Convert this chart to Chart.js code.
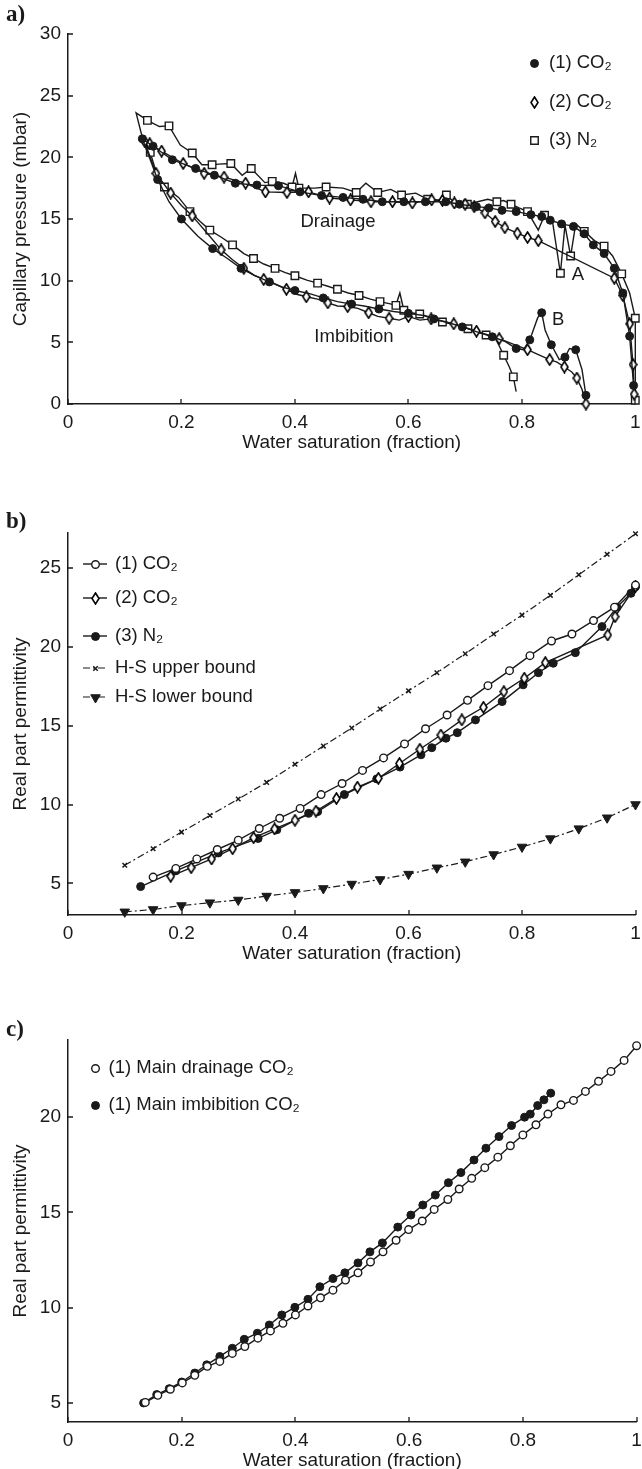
<!DOCTYPE html>
<html>
<head>
<meta charset="utf-8">
<title>Capillary pressure and permittivity vs water saturation</title>
<script src="https://cdn.jsdelivr.net/npm/chart.js@4.4.1/dist/chart.umd.min.js"></script>
<style>
  html, body { margin: 0; padding: 0; background: #fff; overflow: hidden; }
  body { width: 642px; height: 1469px; position: relative; }
  canvas { position: absolute; left: 0; }
</style>
</head>
<body>
<canvas id="graficoA" width="642" height="459" style="top:0"></canvas>
<canvas id="graficoB" width="642" height="511" style="top:459px"></canvas>
<canvas id="graficoC" width="642" height="507" style="top:970px"></canvas>
<script>
const INK = '#1a1a1a';
const FONT = '"Liberation Sans", Arial, Helvetica, sans-serif';

// ---------- ticks ----------
const xTicks = [0, 0.2, 0.4, 0.6, 0.8, 1];
const pcTicks = [0, 5, 10, 15, 20, 25, 30];
const epsTicksB = [5, 10, 15, 20, 25];
const epsTicksC = [5, 10, 15, 20];

// ---------- a) capillary pressure (drainage from Sw=1 leftwards, then imbibition) ----------
const labelsA = ['(1) CO₂', '(2) CO₂', '(3) N₂'];

const sw1 = [0.997, 0.99, 0.978, 0.963, 0.945, 0.926, 0.91, 0.891, 0.87, 0.85, 0.835, 0.816, 0.79, 0.765, 0.742, 0.72, 0.69, 0.666, 0.63, 0.592, 0.554, 0.52, 0.485, 0.447, 0.409, 0.371, 0.333, 0.295, 0.258, 0.225, 0.184, 0.15, 0.131,
  0.145, 0.158, 0.178, 0.2, 0.229, 0.255, 0.281, 0.305, 0.329, 0.355, 0.377, 0.4, 0.426, 0.45, 0.475, 0.5, 0.522, 0.548, 0.574, 0.6, 0.624, 0.645, 0.667, 0.695, 0.721, 0.748, 0.771, 0.79, 0.803, 0.814, 0.828, 0.835, 0.841, 0.852, 0.866, 0.876, 0.884, 0.895, 0.906, 0.913];
const pc1 = [1.5, 5.5, 9.0, 11.0, 12.2, 12.9, 13.8, 14.4, 14.6, 14.9, 15.2, 15.35, 15.6, 15.7, 15.9, 16.0, 16.2, 16.4, 16.4, 16.4, 16.4, 16.6, 16.75, 16.9, 17.2, 17.7, 17.75, 17.9, 18.55, 19.1, 19.8, 20.9, 21.5,
  19.8, 18.2, 16.4, 15.0, 13.6, 12.6, 11.8, 11.0, 10.4, 9.9, 9.5, 9.2, 8.95, 8.6, 8.3, 8.1, 7.95, 7.7, 7.5, 7.35, 7.2, 6.9, 6.65, 6.25, 5.85, 5.45, 5.05, 4.5, 4.4, 5.2, 7.0, 7.4, 6.0, 4.8, 3.6, 3.8, 4.5, 4.4, 2.8, 0.7];

const sw2 = [0.998, 0.996, 0.99, 0.978, 0.963, 0.829, 0.81, 0.792, 0.77, 0.753, 0.735, 0.716, 0.7, 0.681, 0.66, 0.641, 0.607, 0.572, 0.534, 0.498, 0.461, 0.424, 0.386, 0.348, 0.313, 0.275, 0.24, 0.203, 0.165, 0.144, 0.135,
  0.145, 0.155, 0.168, 0.181, 0.2, 0.219, 0.248, 0.27, 0.29, 0.31, 0.328, 0.345, 0.364, 0.385, 0.403, 0.42, 0.44, 0.458, 0.475, 0.493, 0.511, 0.53, 0.546, 0.566, 0.584, 0.6, 0.62, 0.64, 0.66, 0.68, 0.7, 0.72, 0.74, 0.76, 0.788, 0.81, 0.829, 0.849, 0.862, 0.875, 0.888, 0.897, 0.906, 0.913];
const pc2 = [0.8, 3.2, 6.5, 8.8, 10.2, 13.25, 13.5, 13.85, 14.3, 14.8, 15.5, 16.0, 16.2, 16.3, 16.5, 16.55, 16.3, 16.4, 16.4, 16.55, 16.7, 17.2, 17.15, 17.2, 17.9, 18.4, 18.7, 19.5, 20.5, 21.1, 21.3,
  20.0, 18.7, 17.9, 17.1, 16.1, 15.25, 13.7, 12.5, 11.7, 11.0, 10.45, 10.1, 9.75, 9.3, 8.9, 8.7, 8.5, 8.2, 7.95, 7.9, 7.75, 7.4, 7.1, 6.95, 6.8, 7.1, 6.8, 6.9, 6.7, 6.5, 6.2, 5.9, 5.6, 5.3, 4.8, 4.4, 4.0, 3.6, 3.4, 3.0, 2.6, 2.1, 1.2, 0.0];

const sw3 = [1.0, 1.0, 1.0, 0.99, 0.976, 0.96, 0.945, 0.928, 0.91, 0.895, 0.886, 0.876, 0.868, 0.854, 0.84, 0.829, 0.81, 0.795, 0.781, 0.768, 0.756, 0.74, 0.704, 0.68, 0.667, 0.66, 0.634, 0.613, 0.588, 0.569, 0.546, 0.525, 0.508, 0.485, 0.455, 0.435, 0.407, 0.401, 0.395, 0.38, 0.36, 0.347, 0.323, 0.307, 0.287, 0.266, 0.254, 0.236, 0.219, 0.198, 0.178, 0.161, 0.14, 0.12,
  0.13, 0.145, 0.155, 0.17, 0.195, 0.215, 0.233, 0.25, 0.271, 0.29, 0.31, 0.327, 0.345, 0.365, 0.383, 0.4, 0.421, 0.44, 0.458, 0.475, 0.494, 0.513, 0.533, 0.55, 0.57, 0.578, 0.585, 0.592, 0.604, 0.62, 0.634, 0.66, 0.686, 0.705, 0.721, 0.737, 0.753, 0.768, 0.778, 0.785, 0.79];
const pc3 = [0.3, 3.0, 6.95, 9.0, 10.55, 12.0, 12.8, 13.25, 14.0, 14.6, 12.0, 14.5, 10.6, 14.8, 15.3, 14.1, 15.6, 15.9, 16.2, 16.5, 16.4, 16.6, 16.2, 16.4, 16.95, 16.5, 16.6, 17.1, 16.95, 17.4, 17.15, 17.9, 17.15, 17.5, 17.6, 17.5, 17.5, 18.7, 17.6, 17.9, 18.05, 17.95, 19.1, 18.55, 19.5, 19.45, 19.4, 19.4, 20.35, 21.0, 22.55, 22.5, 23.0, 23.6,
  21.8, 20.4, 18.85, 17.6, 16.75, 15.6, 14.8, 14.1, 13.5, 12.9, 12.2, 11.8, 11.35, 11.0, 10.65, 10.4, 10.05, 9.8, 9.55, 9.3, 9.0, 8.8, 8.5, 8.3, 8.1, 8.0, 9.0, 7.6, 7.4, 7.3, 7.1, 6.65, 6.4, 6.1, 5.85, 5.6, 5.4, 3.95, 3.0, 2.2, 1.0];

// ---------- b) real part permittivity ----------
const labelsB = ['(1) CO₂', '(2) CO₂', '(3) N₂', 'H-S upper bound', 'H-S lower bound'];

const swB1 = [0.15, 0.19, 0.227, 0.263, 0.3, 0.337, 0.373, 0.409, 0.446, 0.483, 0.519, 0.556, 0.593, 0.63, 0.668, 0.704, 0.74, 0.778, 0.814, 0.852, 0.888, 0.926, 0.963, 1.0];
const epsB1 = [5.4, 5.95, 6.55, 7.15, 7.74, 8.48, 9.13, 9.75, 10.63, 11.33, 12.16, 12.95, 13.84, 14.8, 15.67, 16.6, 17.53, 18.48, 19.43, 20.36, 20.8, 21.65, 22.5, 23.9];

const swB2 = [0.181, 0.217, 0.253, 0.29, 0.327, 0.364, 0.4, 0.437, 0.473, 0.51, 0.547, 0.584, 0.62, 0.657, 0.694, 0.732, 0.768, 0.804, 0.841, 0.951, 0.964, 1.0];
const epsB2 = [5.45, 6.0, 6.55, 7.2, 7.9, 8.45, 9.0, 9.58, 10.38, 11.1, 11.66, 12.6, 13.5, 14.4, 15.36, 16.16, 17.15, 18.0, 18.99, 20.74, 21.9, 23.8];

const swB3 = [0.128, 0.19, 0.265, 0.335, 0.368, 0.424, 0.44, 0.487, 0.544, 0.585, 0.622, 0.641, 0.666, 0.686, 0.718, 0.765, 0.802, 0.829, 0.855, 0.894, 0.941, 0.967, 0.992, 1.0];
const epsB3 = [4.8, 5.8, 6.93, 7.85, 8.4, 9.44, 9.55, 10.63, 11.62, 12.37, 13.15, 13.6, 14.2, 14.55, 15.36, 16.52, 17.58, 18.35, 18.95, 19.62, 21.27, 22.5, 23.38, 23.8];

const swBound = [0.1, 0.15, 0.2, 0.25, 0.3, 0.35, 0.4, 0.45, 0.5, 0.55, 0.6, 0.65, 0.7, 0.75, 0.8, 0.85, 0.9, 0.95, 1.0];
const hsUpper = [6.15, 7.2, 8.25, 9.3, 10.35, 11.4, 12.55, 13.7, 14.85, 16.05, 17.2, 18.35, 19.55, 20.8, 22.0, 23.25, 24.55, 25.85, 27.15];
const hsLower = [3.2, 3.35, 3.6, 3.78, 3.95, 4.2, 4.43, 4.68, 4.96, 5.25, 5.59, 5.99, 6.37, 6.83, 7.31, 7.84, 8.47, 9.16, 10.0];

// ---------- c) main drainage / imbibition, sample (1) ----------
const labelsC = ['(1) Main drainage CO₂', '(1) Main imbibition CO₂'];

const swDrain = [0.136, 0.158, 0.18, 0.201, 0.223, 0.245, 0.267, 0.289, 0.311, 0.334, 0.356, 0.378, 0.4, 0.422, 0.444, 0.466, 0.488, 0.51, 0.532, 0.554, 0.577, 0.599, 0.623, 0.644, 0.668, 0.688, 0.71, 0.733, 0.756, 0.778, 0.8, 0.823, 0.844, 0.867, 0.889, 0.91, 0.933, 0.955, 0.978, 1.0];
const epsDrain = [5.03, 5.4, 5.72, 6.05, 6.45, 6.92, 7.18, 7.6, 7.96, 8.4, 8.78, 9.18, 9.62, 10.09, 10.52, 10.92, 11.45, 11.83, 12.4, 12.93, 13.54, 14.1, 14.55, 15.16, 15.68, 16.23, 16.79, 17.35, 17.9, 18.5, 19.07, 19.6, 20.16, 20.65, 20.88, 21.35, 21.88, 22.4, 22.98, 23.75];

const swImb = [0.133, 0.156, 0.178, 0.2, 0.223, 0.244, 0.267, 0.289, 0.31, 0.333, 0.354, 0.376, 0.399, 0.422, 0.443, 0.466, 0.487, 0.51, 0.531, 0.553, 0.58, 0.603, 0.624, 0.646, 0.669, 0.691, 0.714, 0.735, 0.758, 0.78, 0.803, 0.813, 0.826, 0.837, 0.849];
const epsImb = [5.0, 5.44, 5.75, 6.1, 6.57, 7.0, 7.44, 7.87, 8.34, 8.66, 9.09, 9.62, 10.02, 10.44, 11.1, 11.53, 11.83, 12.35, 12.93, 13.4, 14.23, 14.86, 15.39, 15.91, 16.56, 17.09, 17.75, 18.37, 18.98, 19.56, 20.0, 20.16, 20.61, 20.91, 21.26];

// ---------- helpers ----------
function pts(xs, ys) {
    return xs.map((x, i) => ({ x, y: ys[i] }));
}

// tall open diamond used as marker
function makeDiamond(w, h) {
    const c = document.createElement('canvas');
    c.width = w; c.height = h;
    const g = c.getContext('2d');
    g.beginPath();
    g.moveTo(w / 2, 1); g.lineTo(w - 1, h / 2); g.lineTo(w / 2, h - 1); g.lineTo(1, h / 2);
    g.closePath();
    g.fillStyle = '#fff'; g.fill();
    g.lineWidth = 1.6; g.strokeStyle = '#000'; g.stroke();
    return c;
}
const diamond = makeDiamond(9, 13);

const FILLED = { style: 'circle', r: 4, fill: INK, bw: 1 };
const OPEN = { style: 'circle', r: 3.8, fill: '#fff', bw: 1.4 };
const SQUARE = { style: 'rect', r: 5.3, fill: '#fff', bw: 1.4 };
const DIAMOND = { style: diamond, r: 4, fill: '#fff', bw: 1.3 };
const CROSS = { style: 'crossRot', r: 3.2, fill: INK, bw: 1.5 };
const TRIDOWN = { style: 'triangle', r: 5.5, fill: INK, bw: 1, rot: 180 };

function serie(label, xs, ys, mk, extra) {
    return Object.assign({
        label,
        data: pts(xs, ys),
        borderColor: INK,
        borderWidth: 1.4,
        tension: 0,
        pointStyle: mk.style,
        markerRadius: mk.r,
        pointRadius: mk.r,
        pointBackgroundColor: mk.fill,
        pointBorderColor: INK,
        pointBorderWidth: mk.bw,
        pointRotation: mk.rot || 0,
        clip: 8
    }, extra || {});
}

function escalas(yMin, yMax, yTicks, yTitle) {
    return {
        x: {
            type: 'linear', min: 0, max: 1,
            grid: { display: false, drawTicks: false },
            border: { display: true, color: INK, width: 1.5 },
            afterBuildTicks: s => { s.ticks = xTicks.map(v => ({ value: v })); },
            afterFit: s => { s.height = 55; s.paddingLeft = 0; s.paddingRight = 0; },
            ticks: { padding: 7.5, color: INK, maxRotation: 0, autoSkip: false, font: { size: 19 }, callback: v => String(v) },
            title: { display: true, text: 'Water saturation (fraction)', color: INK, font: { size: 19 }, padding: { top: 0, bottom: 5 } }
        },
        y: {
            type: 'linear', min: yMin, max: yMax,
            grid: { display: false, drawTicks: false },
            border: { display: true, color: INK, width: 1.5 },
            afterBuildTicks: s => { s.ticks = yTicks.map(v => ({ value: v })); },
            afterFit: s => { s.width = 68; s.paddingTop = 0; s.paddingBottom = 0; },
            ticks: { padding: 7, color: INK, font: { size: 19 }, callback: v => String(v) },
            title: { display: true, text: yTitle, color: INK, font: { size: 19 }, padding: { top: 9, bottom: 0 } }
        }
    };
}

// inward ticks, panel letter, notes and the in-plot legend
const extras = {
    id: 'extras',
    afterDraw(chart, args, opts) {
        const ctx = chart.ctx;
        const area = chart.chartArea;
        const sx = chart.scales.x, sy = chart.scales.y;
        ctx.save();

        ctx.strokeStyle = INK;
        ctx.lineWidth = 1.3;
        ctx.beginPath();
        sx.ticks.forEach(t => {
            const px = Math.round(sx.getPixelForValue(t.value));
            ctx.moveTo(px, area.bottom); ctx.lineTo(px, area.bottom - 5);
        });
        sy.ticks.forEach(t => {
            const py = Math.round(sy.getPixelForValue(t.value));
            ctx.moveTo(area.left, py); ctx.lineTo(area.left + 5, py);
        });
        ctx.stroke();

        ctx.fillStyle = INK;
        ctx.textBaseline = 'middle';
        ctx.textAlign = 'left';
        ctx.font = 'bold 23px "Liberation Serif", "Times New Roman", serif';
        ctx.fillText(opts.tag, 6, opts.tagY);

        ctx.font = '18.5px ' + FONT;
        ctx.textAlign = 'center';
        (opts.notes || []).forEach(n => {
            ctx.fillText(n.text, sx.getPixelForValue(n.x), sy.getPixelForValue(n.y));
        });

        const lg = opts.legend;
        chart.data.datasets.forEach((ds, i) => {
            const y = lg.rows[i];
            if (y === undefined) return;
            if (lg.line) {
                ctx.save();
                ctx.strokeStyle = INK;
                ctx.lineWidth = ds.borderWidth;
                ctx.setLineDash(ds.borderDash || []);
                ctx.beginPath();
                ctx.moveTo(lg.lineFrom, y); ctx.lineTo(lg.lineTo, y);
                ctx.stroke();
                ctx.restore();
            }
            ctx.fillStyle = ds.pointBackgroundColor;
            ctx.strokeStyle = INK;
            ctx.lineWidth = ds.pointBorderWidth;
            Chart.helpers.drawPoint(ctx, {
                pointStyle: ds.pointStyle, radius: ds.markerRadius,
                rotation: ds.pointRotation, borderWidth: ds.pointBorderWidth
            }, Math.round(lg.markerX) + 0.5, Math.round(y) + 0.5);
            ctx.fillStyle = INK;
            ctx.textAlign = 'left';
            ctx.fillText(ds.label, lg.textX, y);
        });
        ctx.restore();
    }
};

function opcoes(padTop, scales, extraOpts) {
    return {
        responsive: false,
        animation: false,
        events: [],
        layout: { padding: { top: padTop, right: 1, bottom: 0, left: 0 } },
        scales,
        plugins: { legend: { display: false }, tooltip: { enabled: false }, extras: extraOpts }
    };
}

Chart.defaults.font.family = FONT;
Chart.defaults.font.size = 18.5;
Chart.defaults.color = INK;

// markers on every drainage vertex, on every other imbibition vertex
function markerRule(xs, r, stepDrain) {
    const turn = xs.indexOf(Math.min(...xs));
    return c => {
        const i = c.dataIndex;
        if (i <= turn) return i % stepDrain === 0 ? r : 0;
        return (i - turn) % 2 === 0 ? r : 0;
    };
}

// ---------- a) ----------
new Chart(document.getElementById('graficoA'), {
    type: 'line',
    data: {
        datasets: [
            serie(labelsA[0], sw1, pc1, FILLED, { pointRadius: markerRule(sw1, FILLED.r, 1) }),
            serie(labelsA[1], sw2, pc2, DIAMOND, { pointRadius: markerRule(sw2, DIAMOND.r, 1) }),
            serie(labelsA[2], sw3, pc3, SQUARE, { pointRadius: markerRule(sw3, SQUARE.r, 2) })
        ]
    },
    options: opcoes(34, escalas(0, 30, pcTicks, 'Capillary pressure (mbar)'), {
        tag: 'a)', tagY: 15,
        notes: [
            { text: 'Drainage', x: 0.476, y: 14.8 },
            { text: 'Imbibition', x: 0.504, y: 5.4 },
            { text: 'A', x: 0.899, y: 10.5 },
            { text: 'B', x: 0.864, y: 6.8 }
        ],
        legend: { line: false, markerX: 534, textX: 549, rows: [63, 102, 140] }
    }),
    plugins: [extras]
});

// ---------- b) ----------
const dashDot = [7, 3, 2, 3];
new Chart(document.getElementById('graficoB'), {
    type: 'line',
    data: {
        datasets: [
            serie(labelsB[0], swB1, epsB1, OPEN),
            serie(labelsB[1], swB2, epsB2, DIAMOND),
            serie(labelsB[2], swB3, epsB3, FILLED),
            serie(labelsB[3], swBound, hsUpper, CROSS, { borderWidth: 1.2, borderDash: dashDot }),
            serie(labelsB[4], swBound, hsLower, TRIDOWN, { borderWidth: 1.2, borderDash: dashDot })
        ]
    },
    options: opcoes(74, escalas(3, 27.2, epsTicksB, 'Real part permittivity'), {
        tag: 'b)', tagY: 63,
        legend: { line: true, lineFrom: 83, lineTo: 107, markerX: 95, textX: 115, rows: [105, 139, 177, 209, 238] }
    }),
    plugins: [extras]
});

// ---------- c) ----------
new Chart(document.getElementById('graficoC'), {
    type: 'line',
    data: {
        datasets: [
            serie(labelsC[0], swDrain, epsDrain, OPEN),
            serie(labelsC[1], swImb, epsImb, FILLED)
        ]
    },
    options: opcoes(70, escalas(4, 24.05, epsTicksC, 'Real part permittivity'), {
        tag: 'c)', tagY: 60,
        legend: { line: false, markerX: 95, textX: 108.5, rows: [98, 135] }
    }),
    plugins: [extras]
});
</script>
</body>
</html>
